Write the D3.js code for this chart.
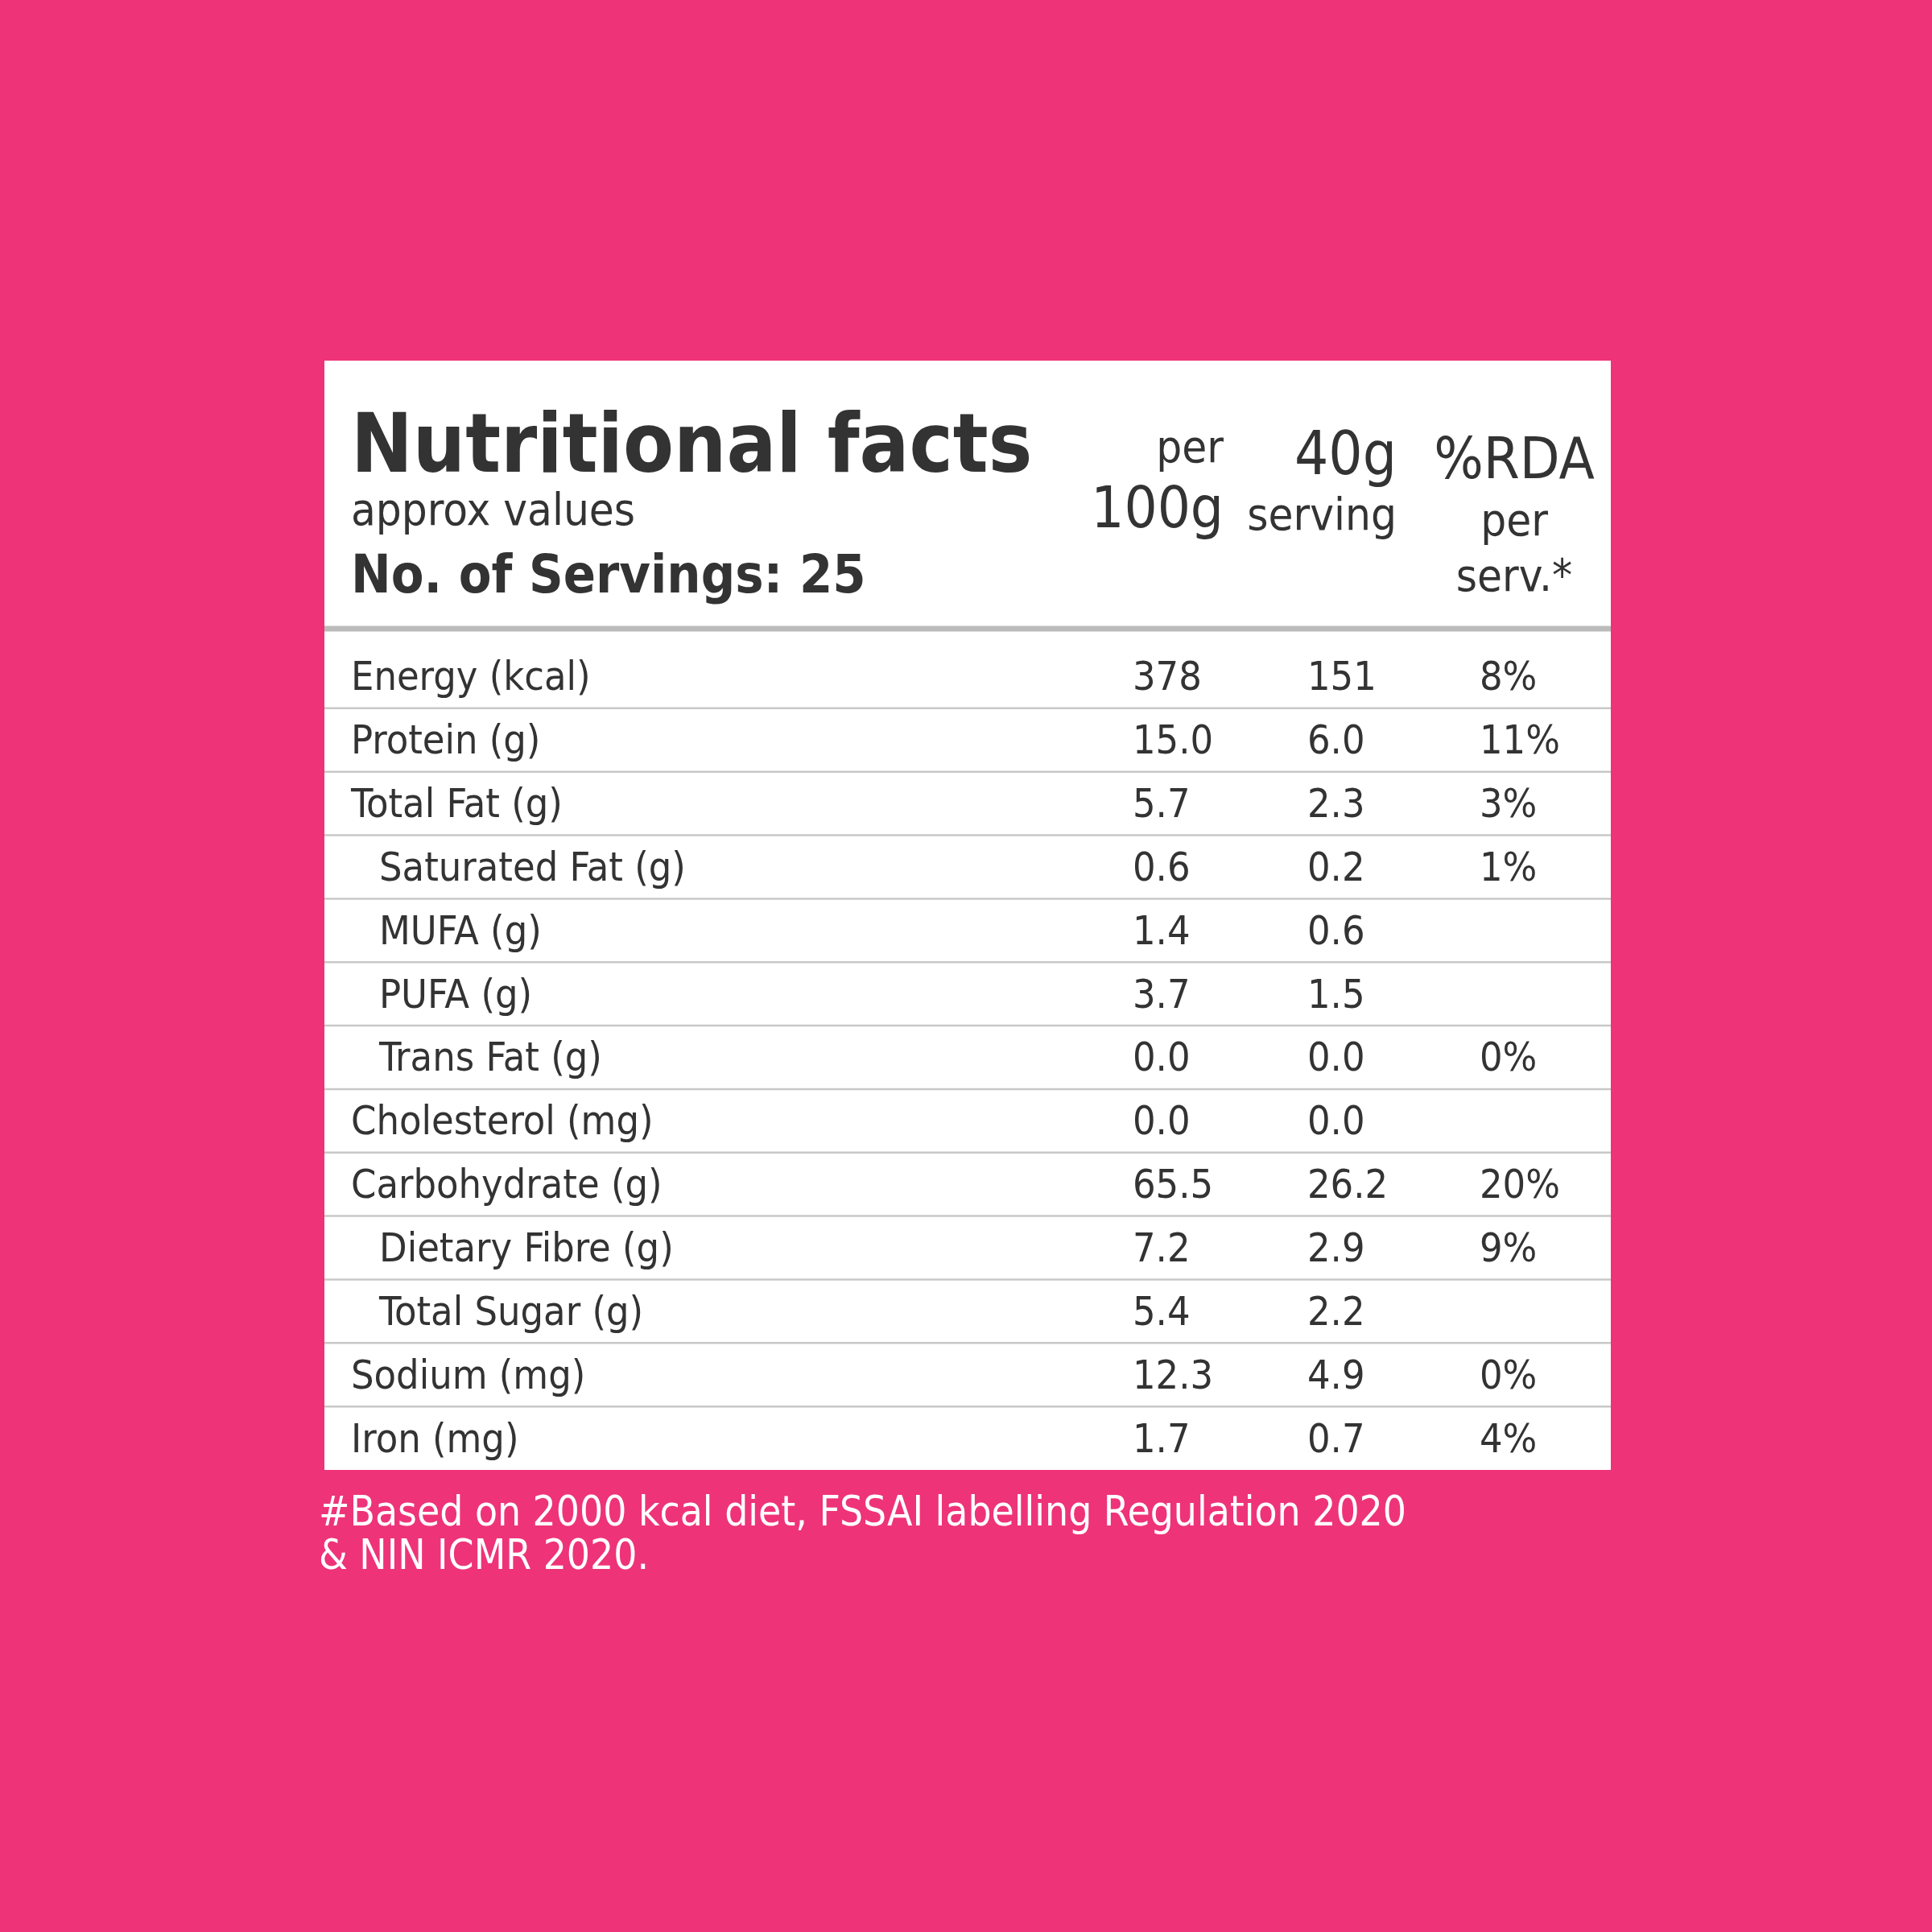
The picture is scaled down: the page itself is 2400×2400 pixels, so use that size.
<!DOCTYPE html>
<html><head><meta charset="utf-8">
<script src="https://cdn.jsdelivr.net/npm/d3@7"></script>
<style>body{margin:0;background:#ee3379}</style>
</head><body><svg id="c" width="2400" height="2400"></svg>
<script>
const labels = ["Energy (kcal)","Protein (g)","Total Fat (g)","Saturated Fat (g)","MUFA (g)","PUFA (g)","Trans Fat (g)","Cholesterol (mg)","Carbohydrate (g)","Dietary Fibre (g)","Total Sugar (g)","Sodium (mg)","Iron (mg)"];
const indented = [false,false,false,true,true,true,true,false,false,true,true,false,false];
const per100 = ["378","15.0","5.7","0.6","1.4","3.7","0.0","0.0","65.5","7.2","5.4","12.3","1.7"];
const perServ = ["151","6.0","2.3","0.2","0.6","1.5","0.0","0.0","26.2","2.9","2.2","4.9","0.7"];
const rda = ["8%","11%","3%","1%","","","0%","","20%","9%","","0%","4%"];
const footnote = ["#Based on 2000 kcal diet, FSSAI labelling Regulation 2020","& NIN ICMR 2020."];

const font = "'Liberation Sans Narrow','DejaVu Sans Condensed',sans-serif";
const ink = "#333";
const svg = d3.select("#c");
svg.append("rect").attr("width",2400).attr("height",2400).attr("fill","#ee3379");

const x0 = 403, x1 = 2001, tableTop = 448, headBottom = 781, tableBottom = 1826;
svg.append("rect").attr("x",x0).attr("y",tableTop).attr("width",x1-x0).attr("height",tableBottom-tableTop).attr("fill","#fff");
svg.append("line").attr("x1",x0).attr("x2",x1).attr("y1",headBottom).attr("y2",headBottom)
  .attr("stroke","#bbb").attr("stroke-width",7);

// first row is a bit taller: bands measured upward from the bottom
const y = d3.scaleBand().domain(d3.range(labels.length)).range([801, tableBottom]);
const g = svg.append("g").attr("font-family",font).attr("fill",ink).attr("font-size",50);
const rows = g.selectAll("g.row").data(labels).join("g").attr("class","row")
  .attr("transform",(d,i)=>`translate(0,${y(i)})`);
rows.filter((d,i)=>i<labels.length-1).append("line").attr("x1",x0).attr("x2",x1)
  .attr("y1",y.bandwidth()).attr("y2",y.bandwidth()).attr("stroke","#c8c8c8").attr("stroke-width",2.5);
const base = y.bandwidth()/2 + 17;
rows.append("text").attr("x",(d,i)=>indented[i]?471:436).attr("y",base).text(d=>d);
rows.append("text").attr("x",1407).attr("y",base).text((d,i)=>per100[i]);
rows.append("text").attr("x",1624).attr("y",base).text((d,i)=>perServ[i]);
rows.append("text").attr("x",1838).attr("y",base).text((d,i)=>rda[i]);

const h = svg.append("g").attr("font-family",font).attr("fill",ink);
h.append("text").attr("x",436).attr("y",586).attr("font-size",102).attr("font-weight","bold").text("Nutritional facts");
h.append("text").attr("x",436).attr("y",652).attr("font-size",56).text("approx values");
h.append("text").attr("x",436).attr("y",736).attr("font-size",66).attr("font-weight","bold").text("No. of Servings: 25");
h.append("text").attr("x",1520).attr("y",574).attr("font-size",56).attr("text-anchor","end").text("per");
h.append("text").attr("x",1520).attr("y",655).attr("font-size",72).attr("text-anchor","end").text("100g");
h.append("text").attr("x",1735).attr("y",589).attr("font-size",74).attr("text-anchor","end").text("40g");
h.append("text").attr("x",1735).attr("y",658).attr("font-size",56).attr("text-anchor","end").text("serving");
h.append("text").attr("x",1881).attr("y",594).attr("font-size",72).attr("text-anchor","middle").text("%RDA");
h.append("text").attr("x",1881).attr("y",665).attr("font-size",56).attr("text-anchor","middle").text("per");
h.append("text").attr("x",1881).attr("y",734).attr("font-size",56).attr("text-anchor","middle").text("serv.*");

svg.append("g").attr("font-family",font).attr("fill","#fff").attr("font-size",51)
  .selectAll("text").data(footnote).join("text").attr("x",396).attr("y",(d,i)=>1895+i*54).text(d=>d);
</script></body></html>
